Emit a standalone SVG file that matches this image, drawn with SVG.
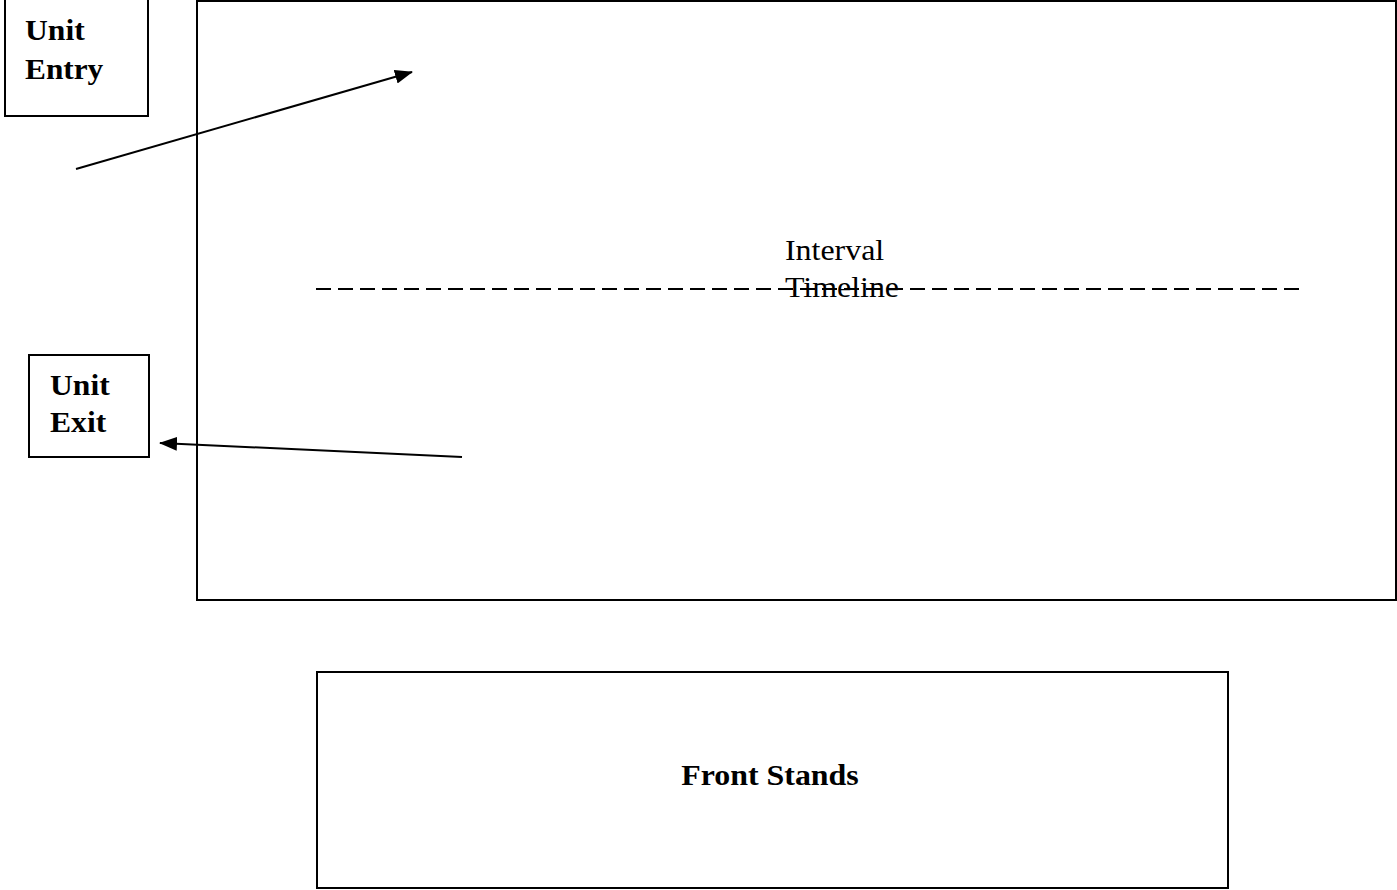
<svg xmlns="http://www.w3.org/2000/svg" width="1397" height="890" viewBox="0 0 1397 890">
<style>
.box{fill:#fff;stroke:#000;stroke-width:2}
.b{font-family:"Liberation Serif","Times New Roman",serif;font-weight:bold;font-size:29px;fill:#000}
.r{font-family:"Liberation Serif","Times New Roman",serif;font-size:29px;fill:#000}
.c{stroke:#000;stroke-width:2;fill:none}
</style>
<defs>
<marker id="ah" viewBox="0 0 18 14" refX="17" refY="7" markerWidth="18" markerHeight="14" orient="auto" markerUnits="userSpaceOnUse">
<path d="M0,0 L18,7 L0,14 z" fill="#000"/>
</marker>
</defs>
<rect width="1397" height="890" fill="#fff"/>
<g id="area">
<rect class="box" x="197" y="1" width="1199" height="599"/>
</g>
<g id="unit-entry">
<rect class="box" x="5" y="-2" width="143" height="118"/>
<text class="b" transform="translate(25,40) scale(1.09,1)">Unit</text>
<text class="b" transform="translate(25,79) scale(1.08,1)">Entry</text>
</g>
<g id="unit-exit">
<rect class="box" x="29" y="355" width="120" height="102"/>
<text class="b" transform="translate(50,395) scale(1.09,1)">Unit</text>
<text class="b" transform="translate(50,432) scale(1.09,1)">Exit</text>
</g>
<g id="front-stands">
<rect class="box" x="317" y="672" width="911" height="216"/>
<text class="b" text-anchor="middle" transform="translate(770,785) scale(1.1,1)">Front Stands</text>
</g>
<g id="connectors">
<line class="c" x1="76" y1="169" x2="412" y2="72" marker-end="url(#ah)"/>
<line class="c" x1="462" y1="457" x2="160" y2="443" marker-end="url(#ah)"/>
<line x1="316" y1="289" x2="1300" y2="289" stroke="#000" stroke-width="2" stroke-dasharray="15 7"/>
</g>
<g id="timeline-label">
<text class="r" transform="translate(785,260) scale(1.1,1)">Interval</text>
<text class="r" transform="translate(785,297) scale(1.1,1)">Timeline</text>
</g>
</svg>
